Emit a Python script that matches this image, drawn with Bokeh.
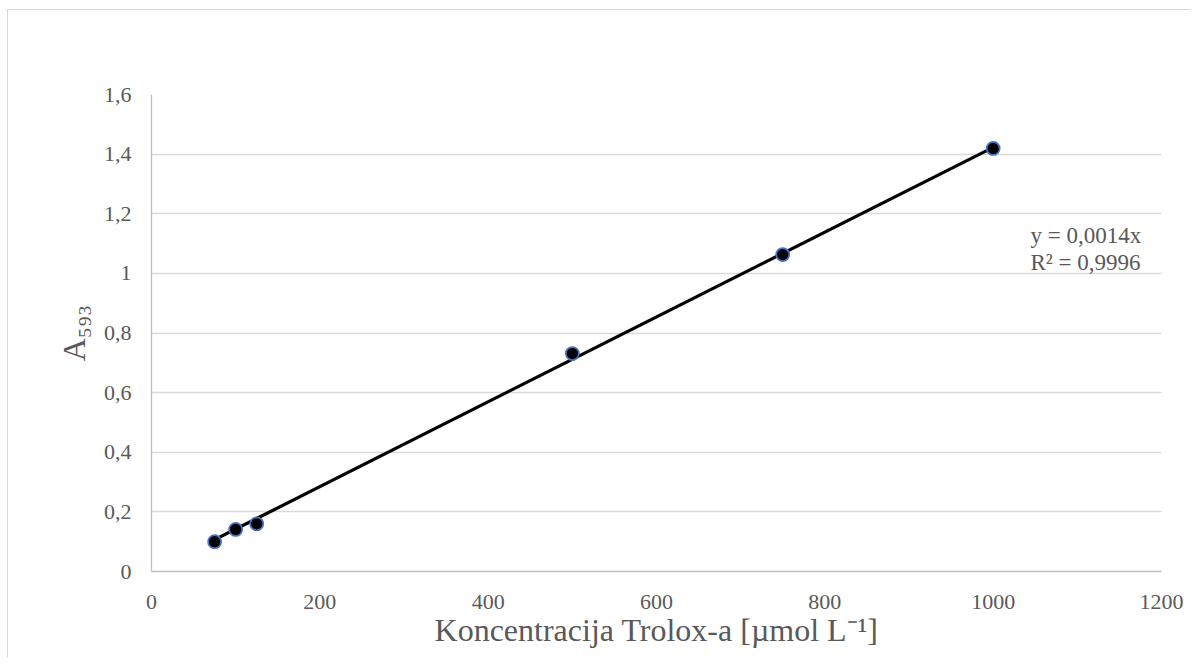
from bokeh.plotting import figure
from bokeh.embed import file_html
from bokeh.resources import INLINE
from bokeh.models import Range1d, FixedTicker, Label, CustomJSTickFormatter
import numpy as np

# data
conc = [75, 100, 125, 500, 750, 1000]
absorb = [0.100, 0.141, 0.160, 0.731, 1.063, 1.419]
x_ticks = [0, 200, 400, 600, 800, 1000, 1200]
y_ticks = [0, 0.2, 0.4, 0.6, 0.8, 1.0, 1.2, 1.4, 1.6]
eq_lines = ["y = 0,0014x", "R\u00b2 = 0,9996"]
y_title = "A\u2085\u2089\u2083"
x_title = "Koncentracija Trolox-a [\u00b5mol L\u207b\u00b9]"

FONT = "Liberation Serif"
GREY = "#595959"

p = figure(width=1184, height=648, output_backend="svg", toolbar_location=None,
           x_range=Range1d(0, 1200), y_range=Range1d(0, 1.6),
           min_border_left=143, min_border_right=31, min_border_top=84, min_border_bottom=87)
p.styles = {"border-top": "1px solid #d9d9d9", "border-left": "1px solid #d9d9d9",
            "margin-top": "9px", "margin-left": "7px"}
p.outline_line_color = None
p.background_fill_color = "white"
p.border_fill_color = "white"

p.xgrid.grid_line_color = None
p.ygrid.grid_line_color = "#d9d9d9"
p.ygrid.grid_line_width = 1.3

p.xaxis.ticker = FixedTicker(ticks=x_ticks)
p.yaxis.ticker = FixedTicker(ticks=y_ticks)
p.yaxis.formatter = CustomJSTickFormatter(code="""
    return (Math.abs(tick - Math.round(tick)) < 1e-9) ? String(Math.round(tick)) : tick.toFixed(1).replace('.', ',');
""")

for ax in (p.xaxis, p.yaxis):
    ax.axis_line_color = "#bfbfbf"
    ax.axis_line_width = 1.3
    ax.major_tick_line_color = None
    ax.minor_tick_line_color = None
    ax.major_label_text_font = FONT
    ax.major_label_text_font_size = "22px"
    ax.major_label_text_color = GREY
    ax.axis_label_text_font = FONT
    ax.axis_label_text_font_style = "normal"
    ax.axis_label_text_color = GREY
    ax.axis_label_text_font_size = "32px"

p.xaxis.major_label_standoff = 17
p.yaxis.major_label_standoff = 14
p.xaxis.axis_label = x_title
p.xaxis.axis_label_standoff = 0
p.yaxis.axis_label = y_title
p.yaxis.axis_label_standoff = 9

# trendline (least squares through origin)
xa = np.array(conc, dtype=float)
ya = np.array(absorb, dtype=float)
slope = float((xa * ya).sum() / (xa * xa).sum())
p.line([xa.min(), xa.max()], [slope * xa.min(), slope * xa.max()], line_color="black", line_width=3.2)

p.scatter(conc, absorb, size=13, fill_color="black", line_color="#4472c4", line_width=1.8)

for i, t in enumerate(eq_lines):
    p.add_layout(Label(x=1030 - 151, y=571 - 235 - 27 * i, x_units="screen", y_units="screen",
                       text=t, text_font=FONT, text_font_size="23px", text_color=GREY,
                       text_align="left", text_baseline="middle"))

open("out.html", "w").write(file_html(p, INLINE))
